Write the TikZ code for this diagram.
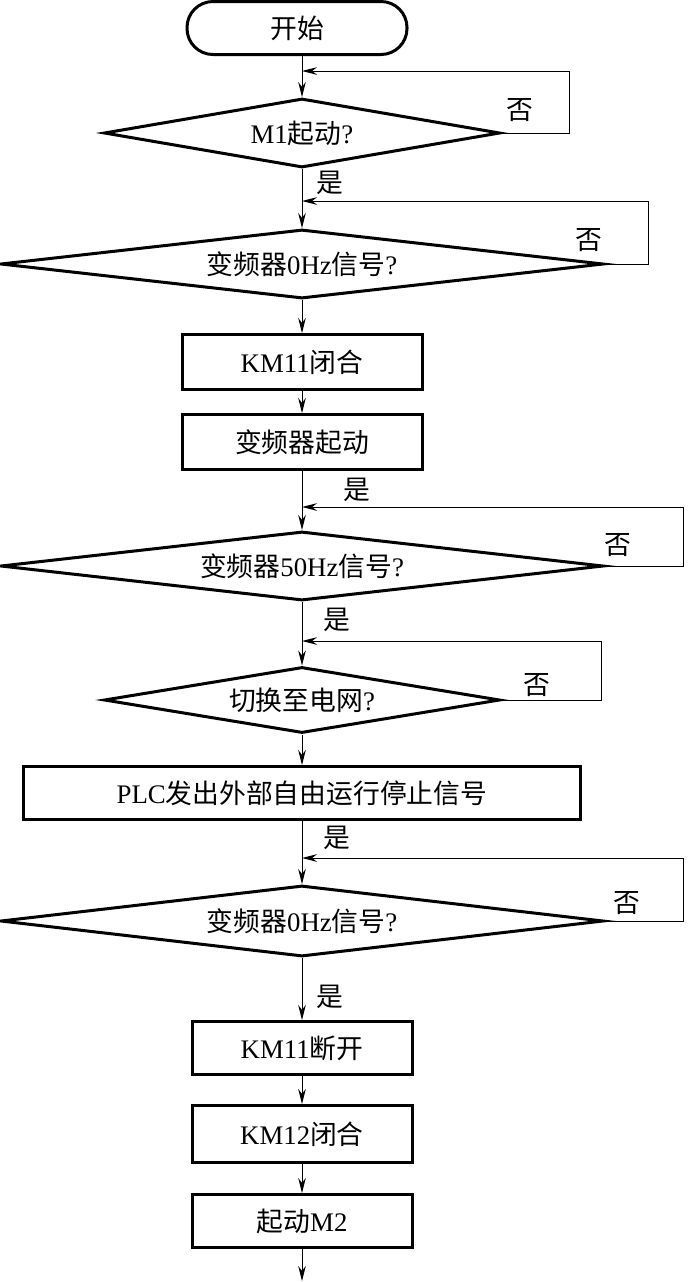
\documentclass[tikz,border=0pt]{standalone}
\usepackage{fontspec}
\setmainfont{Liberation Serif}
\newfontfamily\cjk{Noto Sans CJK SC}
\newcommand{\zh}[1]{{\cjk #1}}
\usetikzlibrary{arrows.meta, shapes.geometric}
\tikzset{
  >={Stealth[length=7.5pt,width=3.8pt]},
  font=\fontsize{13.4pt}{15pt}\selectfont,
  term/.style={
    draw, line width=1.5pt, rounded corners=13pt,
    minimum width=110pt, minimum height=26.5pt
  },
  dec/.style={
    draw, diamond, aspect=8, line width=1.5pt, inner sep=0pt,
    minimum width=#1, minimum height=34.5pt
  },
  dec/.default=301.5pt,
  proc/.style={
    draw, line width=1.5pt, inner sep=2pt,
    minimum width=#1, minimum height=27.5pt
  },
  proc/.default=110pt,
  arr/.style={->, line width=0.5pt},
  lab/.style={inner sep=0pt}
}

\begin{document}
\begin{tikzpicture}[x=0.5pt,y=-0.5pt]
  \useasboundingbox (0,0) rectangle (687,1282);
  % blocks
  \node[term] (start) at (297,28) {\zh{开始}};
  \node[dec=198pt] (d1) at (302,133) {M1\zh{起动}?};
  \node[dec] (d2) at (302,264) {\zh{变频器}0Hz\zh{信号}?};
  \node[proc=120pt] (b1) at (302,362) {KM11\zh{闭合}};
  \node[proc=120pt] (b2) at (302,442) {\zh{变频器起动}};
  \node[dec] (d3) at (302,566) {\zh{变频器}50Hz\zh{信号}?};
  \node[dec=198pt,minimum height=33pt] (d4) at (302,700) {\zh{切换至电网}?};
  \node[proc=278.5pt,minimum height=26.5pt] (b3) at (302,793) {PLC\zh{发出外部自由运行停止信号}};
  \node[dec,minimum height=35.5pt] (d5) at (302,921) {\zh{变频器}0Hz\zh{信号}?};
  \node[proc,minimum height=26.5pt] (b4) at (302,1048) {KM11\zh{断开}};
  \node[proc,minimum height=28.5pt] (b5) at (302,1134) {KM12\zh{闭合}};
  \node[proc,minimum height=26.5pt] (b6) at (302,1221) {\zh{起动}M2};
  % joins of the loops
  \coordinate (j1) at (302,71);
  \coordinate (j2) at (302,201);
  \coordinate (j3) at (302,507);
  \coordinate (j4) at (302,641);
  \coordinate (j5) at (302,858);
  \coordinate (end) at (302,1281);
  % main flow
  \draw[arr] (d1.north |- start.south) -- (d1.north);
  \draw[arr] (d1) -- (d2);
  \draw[arr] (d2) -- (b1);
  \draw[arr] (b1) -- (b2);
  \draw[arr] (b2) -- (d3);
  \draw[arr] (d3) -- (d4);
  \draw[arr] (d4) -- (b3);
  \draw[arr] (b3) -- (d5);
  \draw[arr] (d5) -- (b4);
  \draw[arr] (b4) -- (b5);
  \draw[arr] (b5) -- (b6);
  \draw[arr] (b6) -- (end);
  % loops back
  \draw[arr] (d1.east) -- ++(68,0) |- (j1);
  \draw[arr] (d2.east) -- ++(43,0) |- (j2);
  \draw[arr] (d3.east) -- ++(78,0) |- (j3);
  \draw[arr] (d4.east) -- ++(100,0) |- (j4);
  \draw[arr] (d5.east) -- ++(78,0) |- (j5);
  % labels
  \node[lab] (n1) at (520,110) {\zh{否}};
  \node[lab] (n2) at (589,240) {\zh{否}};
  \node[lab] (n3) at (618,545) {\zh{否}};
  \node[lab] (n4) at (537,685) {\zh{否}};
  \node[lab] (n5) at (627,903) {\zh{否}};
  \node[lab] (y1) at (330,183) {\zh{是}};
  \node[lab] (y2) at (357,490) {\zh{是}};
  \node[lab] (y3) at (337,620) {\zh{是}};
  \node[lab] (y4) at (337,838) {\zh{是}};
  \node[lab] (y5) at (330,997) {\zh{是}};
\end{tikzpicture}
\end{document}
